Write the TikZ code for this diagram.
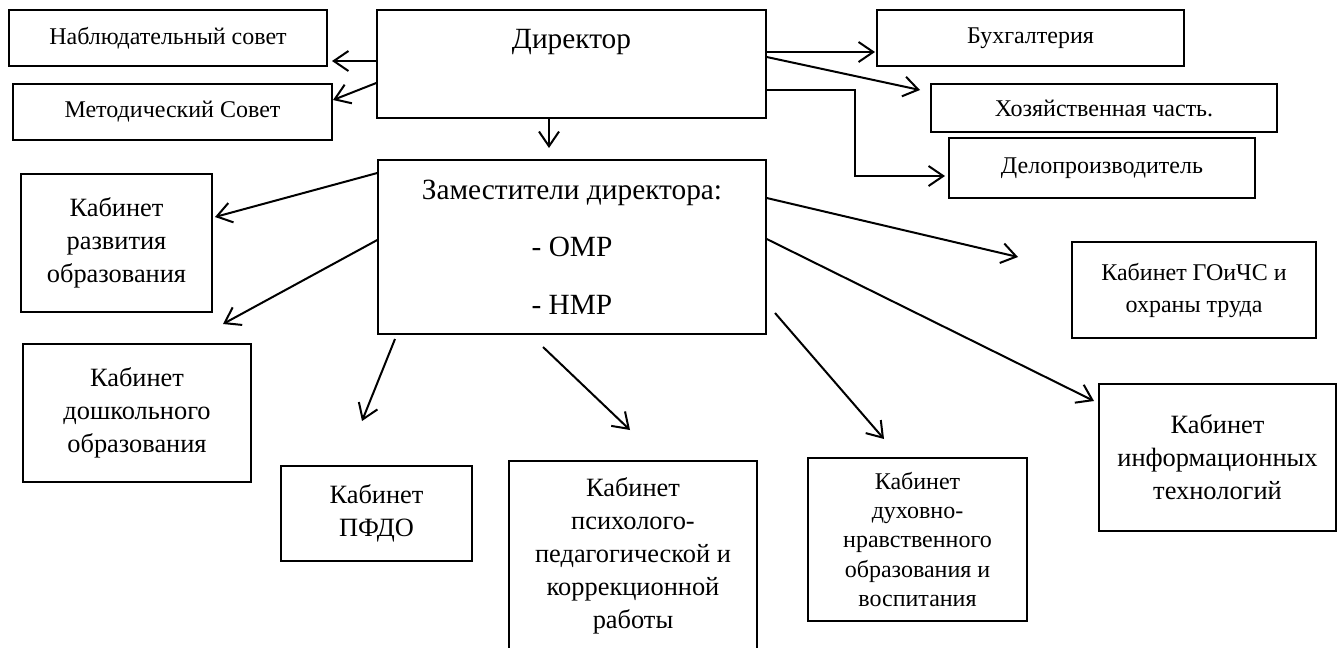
\documentclass[tikz,border=0pt]{standalone}
\usepackage{fontspec}
\setmainfont{Liberation Serif}
\usetikzlibrary{arrows.meta}

\newcommand{\px}{0.75pt}
\tikzset{
    box/.style={draw, line width=1.1pt, align=center, inner sep=0pt},
    arr/.style={line width=1.5pt, -{Straight Barb[length=11pt, width=15pt]}},
    small/.style={font=\fontsize{18}{22}\selectfont},
    kab/.style={font=\fontsize{19.8}{24.75}\selectfont}
}

\begin{document}
\begin{tikzpicture}[x=0.75pt, y=-0.75pt]
    \useasboundingbox (0,0) rectangle (1338,647);
    \clip (0,0) rectangle (1338,647);

    % Директор и советы
    \node[box, minimum width=389*\px, minimum height=108*\px,
          font=\fontsize{22}{26}\selectfont,
          text height=20*\px, text depth=52*\px] (dir) at (571.5,64) {Директор};
    \node[box, small, minimum width=318*\px, minimum height=56*\px] (nabl) at (168,38) {Наблюдательный совет};
    \node[box, small, minimum width=319*\px, minimum height=56*\px] (metod) at (172.5,112) {Методический Совет};

    % Службы справа
    \node[box, small, minimum width=307*\px, minimum height=56*\px] (buh) at (1030.5,38) {Бухгалтерия};
    \node[box, small, minimum width=346*\px, minimum height=48*\px] (hoz) at (1104,108) {Хозяйственная часть.};
    \node[box, small, minimum width=306*\px, minimum height=60*\px] (delo) at (1102,168) {Делопроизводитель};

    % Заместители
    \node[box, minimum width=388*\px, minimum height=174*\px,
          font=\fontsize{22}{43}\selectfont] (zam) at (572,247)
          {Заместители директора:\\- ОМР\\- НМР};

    % Кабинеты
    \node[box, kab, minimum width=191*\px, minimum height=138*\px] (razv) at (116.5,243)
          {Кабинет\\развития\\образования};
    \node[box, kab, minimum width=228*\px, minimum height=138*\px] (dosh) at (137,413)
          {Кабинет\\дошкольного\\образования};
    \node[box, kab, minimum width=191*\px, minimum height=95*\px] (pfdo) at (376.5,513.5)
          {Кабинет\\ПФДО};
    \node[box, kab, minimum width=248*\px, minimum height=190*\px] (psih) at (633,556)
          {Кабинет\\психолого-\\педагогической и\\коррекционной\\работы};
    \node[box, minimum width=219*\px, minimum height=163*\px,
          font=\fontsize{18}{22}\selectfont] (duh) at (917.5,539.5)
          {Кабинет\\духовно-\\нравственного\\образования и\\воспитания};
    \node[box, minimum width=244*\px, minimum height=96*\px,
          font=\fontsize{18}{24}\selectfont] (goichs) at (1194,290)
          {Кабинет ГОиЧС и\\охраны труда};
    \node[box, kab, minimum width=237*\px, minimum height=147*\px] (inf) at (1217.5,457.5)
          {Кабинет\\информационных\\технологий};

    % Концы стрелок
    \coordinate (nablTip) at (332,61);
    \coordinate (metodTip) at (333,100);
    \coordinate (buhTip) at (875,52);
    \coordinate (hozTip) at (920,90);
    \coordinate (deloBend) at (855,176);
    \coordinate (deloTip) at (945,176);
    \coordinate (zamTip) at (549,148);
    \coordinate (razvTip) at (215,217);
    \coordinate (doshTip) at (223,324);
    \coordinate (pfdoFrom) at (395,339);
    \coordinate (pfdoTip) at (362,421);
    \coordinate (psihFrom) at (543,347);
    \coordinate (psihTip) at (630,430);
    \coordinate (duhFrom) at (775,313);
    \coordinate (duhTip) at (884,439);
    \coordinate (goichsTip) at (1018,257);
    \coordinate (infTip) at (1094,401);

    % Стрелки от директора
    \draw[arr] (dir.west |- nablTip) -- (nablTip);
    \draw[arr] (dir.west |- 0,83) -- (metodTip);
    \draw[arr] (dir.east |- buhTip) -- (buhTip);
    \draw[arr] (dir.east |- 0,57) -- (hozTip);
    \draw[arr] (dir.east |- 0,90) -| (deloBend) -- (deloTip);
    \draw[arr] (dir.south -| zamTip) -- (zamTip);

    % Стрелки от заместителей
    \draw[arr] (zam.west |- 0,173) -- (razvTip);
    \draw[arr] (zam.west |- 0,240) -- (doshTip);
    \draw[arr] (pfdoFrom) -- (pfdoTip);
    \draw[arr] (psihFrom) -- (psihTip);
    \draw[arr] (duhFrom) -- (duhTip);
    \draw[arr] (zam.east |- 0,198) -- (goichsTip);
    \draw[arr] (zam.east |- 0,239) -- (infTip);
\end{tikzpicture}
\end{document}
